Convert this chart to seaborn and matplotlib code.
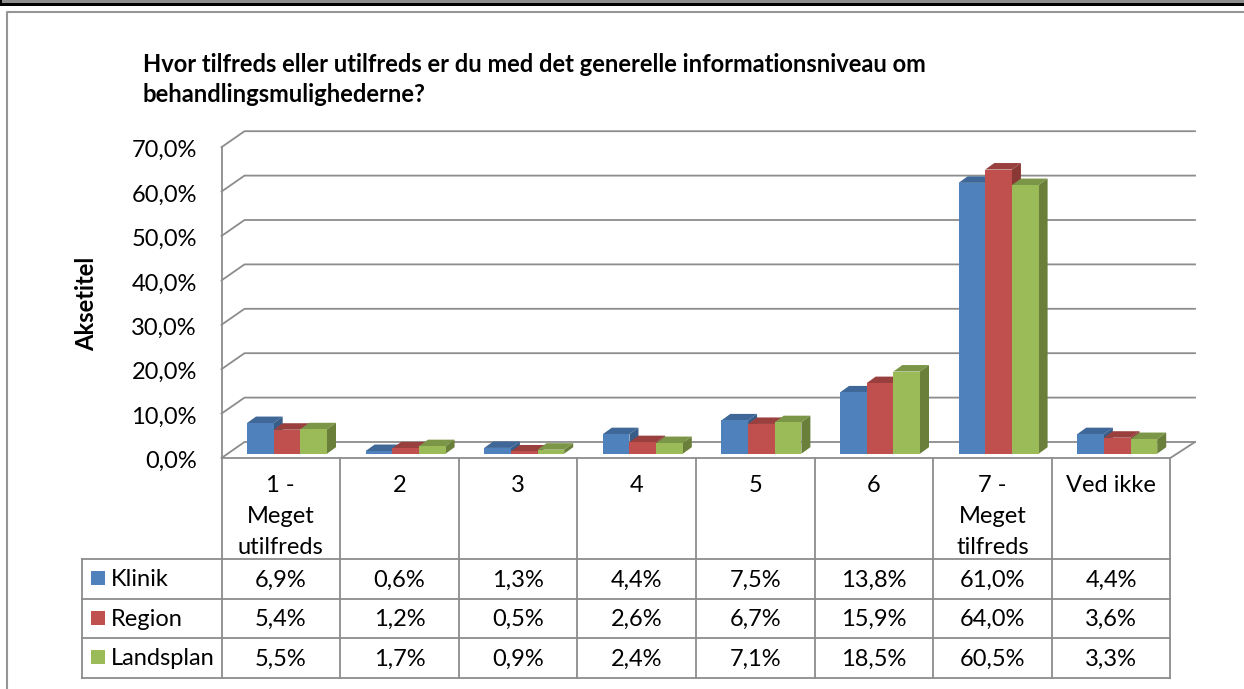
"""
Survey chart: 3D-looking clustered bars with a data table below.
"""

import numpy as np
import pandas as pd
import seaborn as sns
import matplotlib.pyplot as plt
from matplotlib.patches import Polygon, Rectangle

# data
categories = ["1 -\nMeget\nutilfreds", "2", "3", "4", "5", "6",
              "7 -\nMeget\ntilfreds", "Ved ikke"]
series_names = ["Klinik", "Region", "Landsplan"]
klinik = [6.9, 0.6, 1.3, 4.4, 7.5, 13.8, 61.0, 4.4]
region = [5.4, 1.2, 0.5, 2.6, 6.7, 15.9, 64.0, 3.6]
landsplan = [5.5, 1.7, 0.9, 2.4, 7.1, 18.5, 60.5, 3.3]
y_ticks = [0, 10, 20, 30, 40, 50, 60, 70]

title = ("Hvor tilfreds eller utilfreds er du med det generelle "
         "informationsniveau om\nbehandlingsmulighederne?")
y_title = "Aksetitel"

front_colors = ["#4F81BD", "#C0504D", "#9BBB59"]
top_colors = ["#3F6797", "#993F3D", "#7C9647"]
side_colors = ["#385D88", "#893836", "#6A7F3A"]
line_color = "#8C8C8C"

W, H = 1244, 689
PX_PER_PCT = 4.44
CAT_W = 118.6
FLOOR_Y = 458
TABLE_L, TABLE_X0 = 82, 221.5
ROWS_Y = [559, 598.7, 638, 677.7]
BAR_BASE = 453.7
BAR_CENTER0 = 287
DEPTH_X, DEPTH_Y = 9, 6.5
TITLE_SIZE = 17.1
LABEL_SIZE = 17
LINE_W = 1.3

plt.rcParams["font.family"] = ["Lato", "DejaVu Sans"]


def comma(value, digits=1):
    return f"{value:.{digits}f}".replace(".", ",")


def draw_background(ax):
    """ Frame, walls, gridlines and the table lines, in pixel coordinates.
    """
    ax.set_xlim(0, W)
    ax.set_ylim(H, 0)
    ax.axis("off")

    # screenshot border on top
    ax.add_patch(Rectangle((0, 0), W, 3, fc="#8E8E8E", ec="none"))
    ax.add_patch(Rectangle((0, 3), W, 3, fc="black", ec="none"))
    ax.add_patch(Rectangle((0, 0), 1.5, 5, fc="black", ec="none"))
    ax.plot([7, 7, W], [H, 12, 12], color="#969696", lw=1.5)

    # walls and gridlines
    right = TABLE_X0 + CAT_W * 8
    for tick in y_ticks:
        y = FLOOR_Y - tick * PX_PER_PCT
        ax.plot([TABLE_X0, TABLE_X0 + 23, 1195], [y, y - 16, y - 16],
                color=line_color, lw=LINE_W)
    ax.plot([TABLE_X0, TABLE_X0], [FLOOR_Y - 70 * PX_PER_PCT, FLOOR_Y],
            color=line_color, lw=LINE_W)
    ax.plot([right, 1195], [FLOOR_Y, FLOOR_Y - 16], color=line_color,
            lw=LINE_W)

    # table lines
    ax.plot([TABLE_X0, right], [FLOOR_Y, FLOOR_Y], color=line_color,
            lw=LINE_W)
    for y in ROWS_Y:
        ax.plot([TABLE_L, right], [y, y], color=line_color, lw=LINE_W)
    ax.plot([TABLE_L, TABLE_L], [ROWS_Y[0], ROWS_Y[-1]],
            color=line_color, lw=LINE_W)
    for i in range(len(categories) + 1):
        x = TABLE_X0 + CAT_W * i
        ax.plot([x, x], [FLOOR_Y, ROWS_Y[-1]], color=line_color, lw=LINE_W)


def draw_bars(ax, data):
    """ Seaborn draws the fronts, the depth faces are added to each bar.
    """
    sns.barplot(data=data, x="Kategori", y="Procent", hue="Serie",
                hue_order=series_names, palette=front_colors,
                width=80 / CAT_W, gap=0, saturation=1, legend=False,
                linewidth=0, ax=ax)
    ax.set_xlim(-0.5, 7.5)
    ax.set_ylim(0, 70)
    ax.axis("off")

    dx = DEPTH_X / CAT_W
    dy = DEPTH_Y / PX_PER_PCT
    bars = [p for p in ax.patches if isinstance(p, Rectangle)]
    for n, bar in enumerate(bars):
        series = n // len(categories)
        x0, x1 = bar.get_x(), bar.get_x() + bar.get_width()
        h = bar.get_height()
        bar.set_zorder(4 + 2 * series)
        ax.add_patch(Polygon(
            [(x0, h), (x1, h), (x1 + dx, h + dy), (x0 + dx, h + dy)],
            fc=top_colors[series], ec="none", zorder=3 + 2 * series,
            clip_on=False))
        ax.add_patch(Polygon(
            [(x1, 0), (x1 + dx, dy), (x1 + dx, h + dy), (x1, h)],
            fc=side_colors[series], ec="none", zorder=3 + 2 * series,
            clip_on=False))


def draw_text(ax):
    ax.text(143, 64, title.split("\n")[0], fontsize=TITLE_SIZE,
            fontweight="bold", va="center", ha="left")
    ax.text(143, 95, title.split("\n")[1], fontsize=TITLE_SIZE,
            fontweight="bold", va="center", ha="left")
    ax.text(87, 304, y_title, fontsize=TITLE_SIZE, fontweight="bold",
            rotation=90, va="center", ha="center")
    for tick in y_ticks:
        ax.text(197, FLOOR_Y - tick * PX_PER_PCT + 3.5, comma(tick) + "%",
                fontsize=LABEL_SIZE, va="center", ha="right")

    for i, label in enumerate(categories):
        cx = TABLE_X0 + CAT_W * (i + 0.5)
        for j, part in enumerate(label.split("\n")):
            ax.text(cx, 486 + j * 30.5, part, fontsize=LABEL_SIZE,
                    va="center", ha="center")

    rows = [klinik, region, landsplan]
    for r, name in enumerate(series_names):
        y = (ROWS_Y[r] + ROWS_Y[r + 1]) / 2
        ax.add_patch(Rectangle((91, y - 7.5), 14, 14, fc=front_colors[r],
                               ec="none"))
        ax.text(110.5, y + 1, name, fontsize=LABEL_SIZE, va="center",
                ha="left")
        for i, value in enumerate(rows[r]):
            ax.text(TABLE_X0 + CAT_W * (i + 0.5), y + 1, comma(value) + "%",
                    fontsize=LABEL_SIZE, va="center", ha="center")


def main():
    data = pd.DataFrame({
        "Kategori": np.tile(categories, len(series_names)),
        "Serie": np.repeat(series_names, len(categories)),
        "Procent": klinik + region + landsplan,
    })

    fig = plt.figure(figsize=(W / 100, H / 100), dpi=100, facecolor="white")
    back = fig.add_axes([0, 0, 1, 1])
    draw_background(back)
    draw_text(back)

    left = BAR_CENTER0 - CAT_W / 2
    top = BAR_BASE - 70 * PX_PER_PCT
    bar_ax = fig.add_axes([left / W, 1 - BAR_BASE / H, CAT_W * 8 / W,
                           (BAR_BASE - top) / H])
    bar_ax.patch.set_alpha(0)
    draw_bars(bar_ax, data)

    fig.savefig("out.png", dpi=100)


if __name__ == '__main__':
    main()
